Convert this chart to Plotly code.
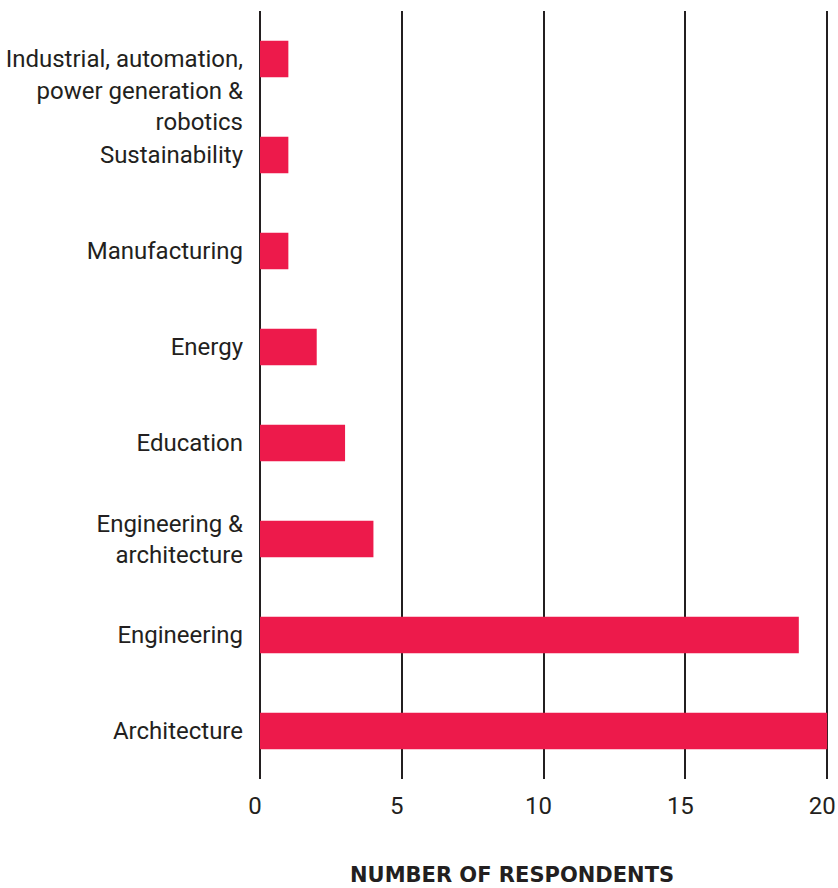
import plotly.graph_objects as go

# Respondents by industry (bottom to top)
industries = [
    "Architecture",
    "Engineering",
    "Engineering &<br>architecture",
    "Education",
    "Energy",
    "Manufacturing",
    "Sustainability",
    "<br><br>Industrial, automation,<br>power generation &<br>robotics",
]
respondents = [20, 19, 4, 3, 2, 1, 1, 1]
x_ticks = [0, 5, 10, 15, 20]

BAR_RED = "#ED1A4B"
INK = "#231F20"
FONT = "Roboto, Inter, sans-serif"
TITLE_FONT = "DejaVu Sans, Liberation Sans, sans-serif"

fig = go.Figure(
    go.Bar(
        x=respondents,
        y=industries,
        orientation="h",
        marker=dict(color=BAR_RED, line=dict(width=0)),
        width=0.38,
        hoverinfo="x",
    )
)

fig.update_layout(
    width=838,
    height=888,
    margin=dict(l=260, r=8, t=11, b=109),
    paper_bgcolor="white",
    plot_bgcolor="white",
    showlegend=False,
    font=dict(family=FONT, size=24, color=INK),
    xaxis=dict(
        range=[0, 20.1],
        tickvals=x_ticks,
        ticktext=[str(v) for v in x_ticks],
        showgrid=True,
        gridcolor=INK,
        gridwidth=2,
        zeroline=True,
        zerolinecolor=INK,
        zerolinewidth=2,
        showline=False,
        ticks="",
        ticklabelstandoff=10,
        ticklabelshift=-5,
        ticklabeloverflow="allow",
        automargin=False,
        tickfont=dict(family=FONT, size=24, color=INK),
    ),
    yaxis=dict(
        categoryorder="array",
        categoryarray=industries,
        range=[-0.5, len(industries) - 0.5],
        showgrid=False,
        zeroline=False,
        showline=False,
        ticks="",
        ticklabelstandoff=16,
        ticklabeloverflow="allow",
        automargin=False,
        tickfont=dict(family=FONT, size=24, color=INK),
    ),
    annotations=[
        dict(
            text="<b>NUMBER OF RESPONDENTS</b>",
            xref="paper",
            yref="paper",
            x=0.442,
            y=0,
            xanchor="center",
            yanchor="middle",
            yshift=-96,
            showarrow=False,
            font=dict(family=TITLE_FONT, size=21, color=INK),
        )
    ],
)

fig.write_html("out.html")
